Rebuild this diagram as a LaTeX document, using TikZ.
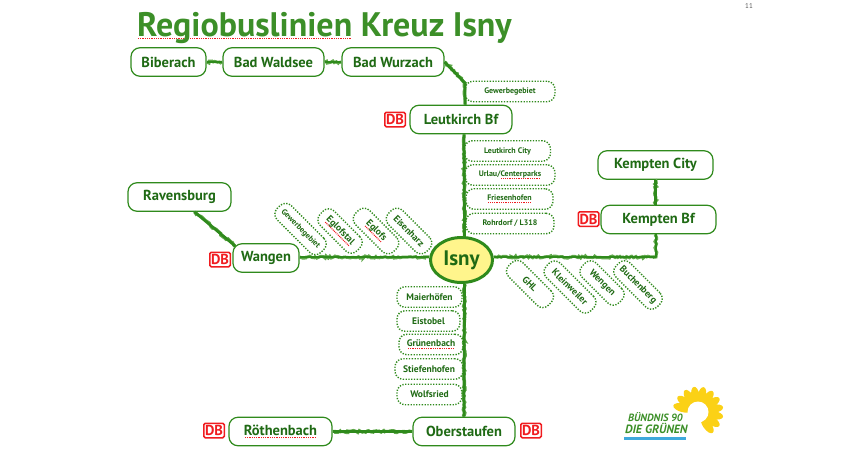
\documentclass[tikz,border=0pt]{standalone}
\usepackage{fontspec}
\setmainfont{PT Sans}
\usetikzlibrary{positioning, calc, shapes.geometric, decorations.pathmorphing}
\definecolor{myGreen}{HTML}{3C8F28}
\definecolor{myDark}{HTML}{1F6A14}
\definecolor{myLine}{HTML}{2F8A1C}
\definecolor{myGrass}{HTML}{5FA84A}
\definecolor{myYellow}{HTML}{FFF58C}
\definecolor{myRed}{HTML}{F01C20}
\definecolor{mySun}{HTML}{FBD116}
\definecolor{myBlue}{HTML}{3FA9DC}
\newcommand{\misspelt}[1]{\leavevmode\setbox0=\hbox{#1}\rlap{\raisebox{-2.6pt}{\textcolor{myRed}{\hbox to \wd0{\cleaders\hbox to 1.8pt{\hss\rule{1pt}{1pt}\hss}\hfill}}}}\box0\relax}

\begin{document}
\begin{tikzpicture}[x=1pt, y=-1pt,
  town/.style={draw=myLine, line width=1.2pt, rounded corners=9pt, fill=white,
              minimum height=28.5pt, inner sep=0pt,
              font=\fontsize{14.5}{16}\selectfont\bfseries, text=myDark, align=center},
  halt/.style={draw=myLine, line width=1.4pt, dash pattern=on 1.3pt off 1.5pt, rounded corners=8pt,
              minimum height=20.5pt, inner sep=0pt,
              font=\fontsize{9.5}{10}\selectfont\bfseries, text=myDark, align=center},
  haltsmall/.style={halt, font=\fontsize{8}{9}\selectfont\bfseries},
  slant/.style={halt, rotate=-45, minimum height=20pt, font=\fontsize{9.5}{10}\selectfont\bfseries},
  db/.style={draw=myRed, line width=1.5pt, rounded corners=1.5pt, minimum width=20.5pt, minimum height=14.5pt,
              inner sep=0pt, font=\fontsize{14.5}{14}\selectfont\bfseries, text=myRed},
  track/.style={draw=myLine, line width=2.8pt, line join=round,
              preaction={draw=myGrass, line width=3pt, decorate,
              decoration={random steps, segment length=1.8pt, amplitude=1.1pt}}},
  petal/.style={ellipse, fill=mySun, minimum width=19pt, minimum height=8.5pt, inner sep=0pt}
]
\useasboundingbox (0,0) rectangle (850,450);

\node[anchor=base west, inner sep=0pt, font=\fontsize{34}{40}\selectfont\bfseries, text=myGreen] (title) at (137,36)
  {\misspelt{Regiobuslinien} Kreuz Isny};
\node[font=\fontsize{7}{8}\selectfont, text=black!65] (page) at (749,6) {11};

\node[town, minimum width=75pt]  (biberach) at (168.5,62) {Biberach};
\node[town, minimum width=101pt] (waldsee)  at (273.5,62) {Bad Waldsee};
\node[town, minimum width=102pt] (wurzach)  at (393,62)   {Bad Wurzach};
\node[town, minimum width=102pt] (leutkirch) at (461,119.5) {Leutkirch Bf};
\node[town, minimum width=115pt] (kemptencity) at (655.5,165) {Kempten City};
\node[town, minimum width=115pt] (kemptenbf) at (658.5,219.5) {Kempten Bf};
\node[town, minimum width=103pt] (ravensburg) at (179.5,197) {Ravensburg};
\node[town, minimum width=66pt]  (wangen) at (266,258) {Wangen};
\node[town, minimum width=103pt] (roethenbach) at (280.5,431.5) {\misspelt{Röthenbach}};
\node[town, minimum width=102pt] (oberstaufen) at (464,431.5) {Oberstaufen};

\node[db] (dbleutkirch) at (395,119.5) {DB};
\node[db] (dbkempten)   at (588.5,219) {DB};
\node[db] (dbwangen)    at (220,259.5) {DB};
\node[db] (dbroethen)   at (214,430.5) {DB};
\node[db] (dbober)      at (531,430.5) {DB};

\node[ellipse, draw=myLine, line width=3pt, fill=myYellow, minimum width=62pt, minimum height=45pt,
      inner sep=0pt, font=\fontsize{21}{24}\selectfont\bfseries, text=myDark] (isny) at (461.5,260) {Isny};

\draw[track] (biberach) -- (waldsee);
\draw[track] (waldsee) -- (wurzach);
\coordinate (bend) at (465,83);
\draw[track] (wurzach.east) -- (bend) -- ([xshift=4pt]leutkirch.north);
\draw[track] ([xshift=3pt]leutkirch.south) -- ([xshift=3pt]isny.north);
\draw[track] (ravensburg.south) ++(15,0) -- ([xshift=3pt,yshift=-3pt]wangen.north west);
\draw[track] (wangen.east) ++(0,-1) -- ([yshift=3pt]isny.west);
\draw[track] ([yshift=3pt]isny.east) -| ([xshift=-2.5pt]kemptenbf.south);
\draw[track] (kemptenbf.north -| kemptencity.south) -- (kemptencity.south);
\draw[track] ([xshift=3pt]isny.south) -- (oberstaufen.north);
\draw[track] (roethenbach) -- (oberstaufen);

\node[haltsmall, minimum width=90pt] (gewerbe) at (510,91.5) {Gewerbegebiet};
\node[haltsmall, minimum width=86pt] (city)    at (507.5,151) {Leutkirch City};
\node[haltsmall, minimum width=90pt] (urlau)   at (510,175) {Urlau/\misspelt{Centerparks}};
\node[haltsmall, minimum width=87pt] (friesen) at (509.5,199) {\misspelt{Friesenhofen}};
\node[haltsmall, minimum width=88pt] (rohr)    at (510,223.5) {Rohrdorf / L318};

\node[halt, minimum width=65pt] (maier)  at (429.5,297) {Maierhöfen};
\node[halt, minimum width=63pt] (eis)    at (428.5,321) {Eistobel};
\node[halt, minimum width=64pt] (gruen)  at (431,344.5) {\misspelt{Grünenbach}};
\node[halt, minimum width=68pt] (stiefen) at (429,369) {Stiefenhofen};
\node[halt, minimum width=65pt] (wolf)   at (429.5,394.5) {Wolfsried};

\node[slant, minimum width=62pt, font=\fontsize{8}{8}\selectfont\bfseries] (gewerbew) at (300.5,229) {Gewerbegebiet};
\node[slant, minimum width=52pt] (eglofstal) at (340,231) {\misspelt{Eglofstal}};
\node[slant, minimum width=54pt] (eglofs)    at (376,231) {\misspelt{Eglofs}};
\node[slant, minimum width=54pt] (eisenharz) at (409,231) {Eisenharz};
\node[slant, minimum width=56pt] (ghl)       at (530,284) {GHL};
\node[slant, minimum width=63pt] (kleinw)    at (570,287) {Kleinweiler};
\node[slant, minimum width=52pt] (wengen)    at (602,283) {Wengen};
\node[slant, minimum width=58pt] (buchen)    at (638,285) {Buchenberg};

\coordinate (sun) at (698,412);
\foreach \a in {-165,-143,...,70}
  \node[petal, rotate=-\a] (petal\a) at ($(sun)+(\a:16)$) {};
\fill[white] (sun) circle (10.5);
\node[anchor=base west, inner sep=0pt, font=\fontsize{10.5}{12}\selectfont\bfseries\itshape, text=myGreen] (logoa) at (628,421) {BÜNDNIS 90};
\node[anchor=base west, inner sep=0pt, font=\fontsize{12}{12}\selectfont\bfseries\itshape, text=myGreen] (logob) at (625,433) {DIE GRÜNEN};
\fill[myBlue] (624,437) rectangle (686,440);
\end{tikzpicture}
\end{document}
